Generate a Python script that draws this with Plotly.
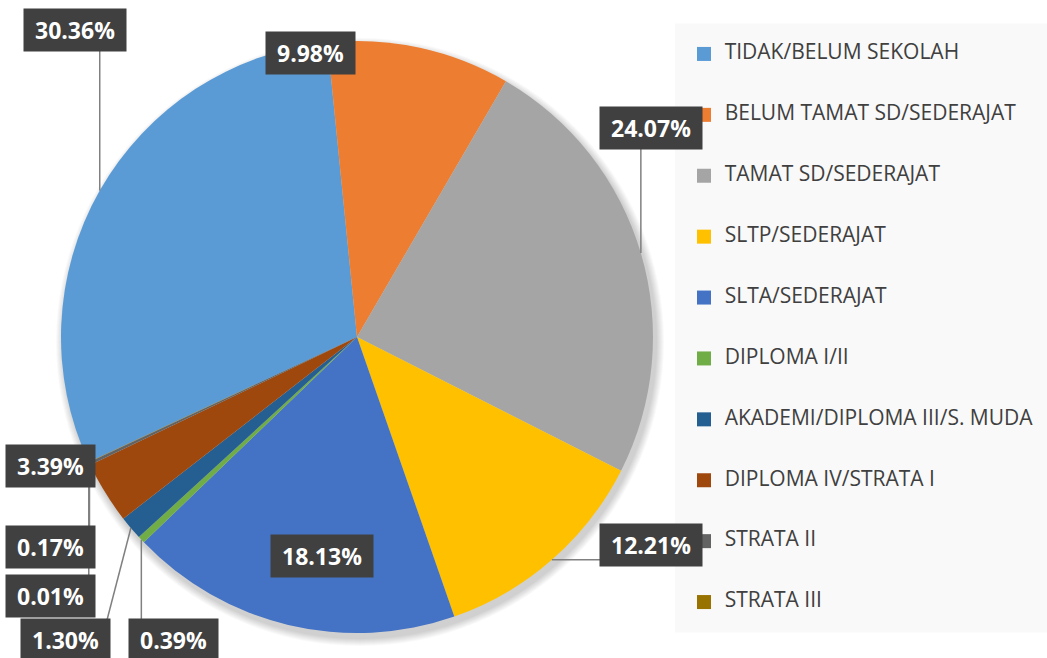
import math
import plotly.graph_objects as go

# data
categories = ["TIDAK/BELUM SEKOLAH", "BELUM TAMAT SD/SEDERAJAT", "TAMAT SD/SEDERAJAT",
              "SLTP/SEDERAJAT", "SLTA/SEDERAJAT", "DIPLOMA I/II",
              "AKADEMI/DIPLOMA III/S. MUDA", "DIPLOMA IV/STRATA I", "STRATA II", "STRATA III"]
percent = [30.36, 9.98, 24.07, 12.21, 18.13, 0.39, 1.30, 3.39, 0.17, 0.01]
colors = ["#5B9BD5", "#ED7D31", "#A5A5A5", "#FFC000", "#4472C4",
          "#70AD47", "#255E91", "#9E480E", "#636363", "#997300"]

W, H = 1047, 658
cx, cy, R = 357, 337, 296
ROT = 245

# label box centres (px) and whether a leader line is drawn
label_pos = [(75, 30), (310, 53), (651, 128), (651, 545), (322, 556),
             (173, 640), (65, 640), (50, 466), (50, 547), (50, 596)]
leader = [True, False, True, True, False, True, True, False, True, True]

fig = go.Figure()

# soft shadow behind the pie
for k in range(8):
    r = R + 1 + k
    fig.add_shape(type="circle", xref="paper", yref="paper", layer="below",
                  x0=(cx + 3 - r) / W, x1=(cx + 3 + r) / W,
                  y0=1 - (cy + 5 + r) / H, y1=1 - (cy + 5 - r) / H,
                  fillcolor="rgba(0,0,0,0.025)", line=dict(width=0))

fig.add_trace(go.Pie(
    labels=categories, values=percent, sort=False, direction="clockwise",
    rotation=ROT, textinfo="none", hoverinfo="label+percent",
    marker=dict(colors=colors, line=dict(width=0)),
    domain=dict(x=[(cx - R) / W, (cx + R) / W], y=[(H - cy - R) / H, (H - cy + R) / H]),
    showlegend=False))

# legend drawn as a scatter on its own axes
fig.add_trace(go.Scatter(
    x=[0] * len(categories), y=categories, mode="markers+text",
    marker=dict(symbol="square", size=14, color=colors),
    text=["  " + c for c in categories], textposition="middle right",
    textfont=dict(family="Open Sans", size=21, color="#404040"),
    hoverinfo="skip", showlegend=False, cliponaxis=False))

# data labels; leader lines run from the slice mid-angle on the rim
# to the nearest point of the label box
total = sum(percent)
annotations = []
acc = 0
mids = []
for v in percent:
    mids.append(ROT + (acc + v / 2) / total * 360)
    acc += v
# draw DIPLOMA IV label last so its box covers nearby leader lines
order = [0, 1, 2, 3, 4, 5, 6, 8, 9, 7]
for i in order:
    txt = "%.2f%%" % percent[i]
    lx, ly = label_pos[i]
    if leader[i]:
        a = math.radians(mids[i])
        px = cx + R * math.sin(a)
        py = cy - R * math.cos(a)
        hw, hh = 9.5 + 6.5 * len(txt), 20
        ex = min(max(px, lx - hw), lx + hw)
        ey = min(max(py, ly - hh), ly + hh)
        fig.add_shape(type="line", xref="paper", yref="paper", layer="above",
                      x0=px / W, y0=1 - py / H, x1=ex / W, y1=1 - ey / H,
                      line=dict(color="#808080", width=1.5))
    annotations.append(dict(
        text="<b>\u00a0" + txt + "\u00a0</b>", xref="paper", yref="paper",
        x=lx / W, y=1 - ly / H, showarrow=False, xanchor="center", yanchor="middle",
        font=dict(family="Open Sans", size=23, color="white"),
        bgcolor="#404040", borderpad=5))

leg_top, leg_bot = 23.5, 632.5
fig.update_layout(
    width=W, height=H, margin=dict(l=0, r=0, t=0, b=0),
    paper_bgcolor="white", plot_bgcolor="#F9F9F9",
    xaxis=dict(domain=[675 / W, 1], range=[-29, W - 675 - 29], visible=False, fixedrange=True),
    yaxis=dict(domain=[(H - leg_bot) / H, (H - leg_top) / H], range=[9.5, -0.5],
               type="category", visible=False, fixedrange=True),
    annotations=annotations,
    font=dict(family="Open Sans"))

fig.write_html("out.html", config={"displayModeBar": False},
               post_script="document.body.style.margin='0';")
